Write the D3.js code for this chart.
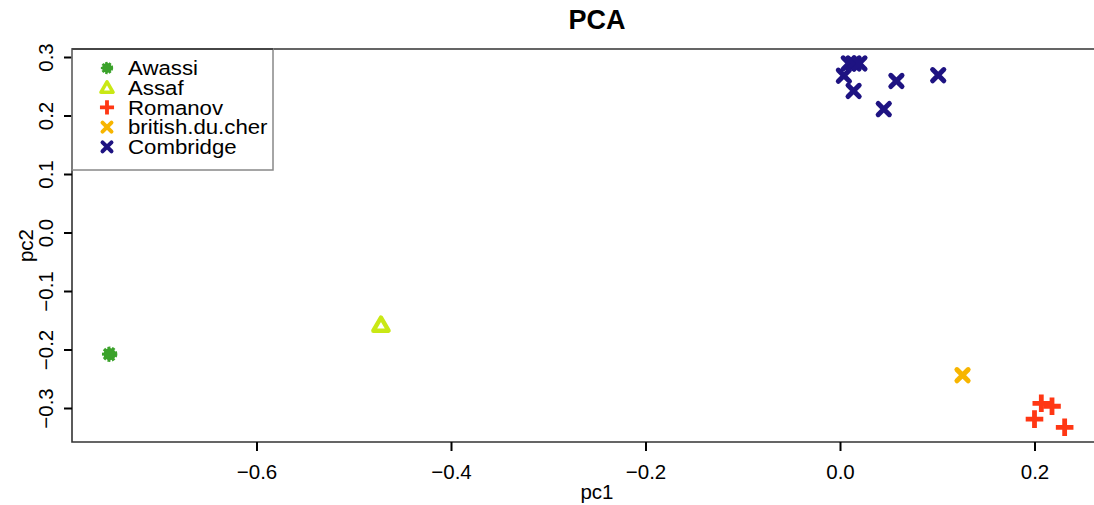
<!DOCTYPE html>
<html>
<head>
<meta charset="utf-8">
<script src="https://cdn.jsdelivr.net/npm/d3@7"></script>
<style>
  body { margin: 0; background: #fff; }
  svg { display: block; font-family: "Liberation Sans", Arial, sans-serif; }
</style>
</head>
<body>
<div id="chart"></div>
<script>
// PCA scatter
const breeds = ['Awassi', 'Assaf', 'Romanov', 'british.du.cher', 'Combridge'];
const colors = ['#3ba22b', '#c9e815', '#ff3714', '#f7b500', '#1e1382'];
const shapes = ['dot', 'triangle', 'plus', 'cross', 'cross'];

const awassiPc1 = [-0.751];
const awassiPc2 = [-0.208];
const assafPc1 = [-0.472];
const assafPc2 = [-0.158];
const romanovPc1 = [0.207, 0.218, 0.200, 0.231];
const romanovPc2 = [-0.292, -0.297, -0.319, -0.333];
const britishPc1 = [0.126];
const britishPc2 = [-0.244];
const combridgePc1 = [0.009, 0.014, 0.020, 0.004, 0.014, 0.058, 0.045, 0.101];
const combridgePc2 = [0.289, 0.289, 0.289, 0.268, 0.242, 0.259, 0.211, 0.269];

const xTicks = [-0.6, -0.4, -0.2, 0.0, 0.2];
const yTicks = [-0.3, -0.2, -0.1, 0.0, 0.1, 0.2, 0.3];

const series = [
    [awassiPc1, awassiPc2],
    [assafPc1, assafPc2],
    [romanovPc1, romanovPc2],
    [britishPc1, britishPc2],
    [combridgePc1, combridgePc2],
];
const points = [];
series.forEach(([xs, ys], k) => {
    xs.forEach((v, i) => points.push({ pc1: v, pc2: ys[i], k }));
});

const width = 1094, height = 505;
// plot region runs past the right edge of the picture
const box = { left: 72, top: 49, right: 1120, bottom: 442 };

const x = d3.scaleLinear().domain([-0.6, 0.2]).range([256.5, 1034.5]);
const y = d3.scaleLinear().domain([-0.3, 0.3]).range([408, 57]);

const fmt = d => d3.format('.1f')(d).replace('-', '\u2212');

const svg = d3.select('#chart').append('svg')
    .attr('width', width)
    .attr('height', height);

function drawMarker(g, shape, color, s) {
    if (shape === 'dot') {
        g.append('circle')
            .attr('r', 6.2 * s)
            .attr('fill', color)
            .attr('stroke', color)
            .attr('stroke-width', 3 * s)
            .attr('stroke-dasharray', `${2.8 * s},${1.6 * s}`);
    } else if (shape === 'triangle') {
        g.append('path')
            .attr('d', d3.symbol(d3.symbolTriangle, 100 * s * s)())
            .attr('transform', `translate(0,${1.4 * s})`)
            .attr('fill', 'none')
            .attr('stroke', color)
            .attr('stroke-width', 4.4 * s)
            .attr('stroke-linejoin', 'round');
    } else if (shape === 'plus') {
        const a = 8.8 * s;
        g.append('path')
            .attr('d', `M${-a},0H${a}M0,${-a}V${a}`)
            .attr('stroke', color)
            .attr('stroke-width', 4.8 * s);
    } else {
        const a = 5.6 * s;
        g.append('path')
            .attr('d', `M${-a},${-a}L${a},${a}M${-a},${a}L${a},${-a}`)
            .attr('stroke', color)
            .attr('stroke-width', 5 * s)
            .attr('stroke-linecap', 'round');
    }
}

// Box
svg.append('path')
    .attr('d', `M${box.right},${box.top}H${box.left}V${box.bottom}H${box.right}`)
    .attr('fill', 'none')
    .attr('stroke', '#333')
    .attr('stroke-width', 1.6);

// X axis
const xAxis = svg.append('g')
    .attr('transform', `translate(0,${box.bottom})`)
    .call(d3.axisBottom(x).tickValues(xTicks).tickSize(9).tickPadding(13).tickFormat(fmt));
xAxis.select('.domain').remove();
xAxis.selectAll('line').attr('stroke', '#000').attr('stroke-width', 2);
xAxis.selectAll('text')
    .attr('font-size', '20.5px')
    .attr('font-family', '"Liberation Sans", Arial, sans-serif')
    .attr('fill', '#000');

// Y axis
const yAxis = svg.append('g')
    .attr('transform', `translate(${box.left},0)`)
    .call(d3.axisLeft(y).tickValues(yTicks).tickSize(8).tickPadding(0).tickFormat(fmt));
yAxis.select('.domain').remove();
yAxis.selectAll('line').attr('stroke', '#000').attr('stroke-width', 2);
yAxis.selectAll('text')
    .attr('font-size', '20.5px')
    .attr('font-family', '"Liberation Sans", Arial, sans-serif')
    .attr('fill', '#000')
    .attr('text-anchor', 'middle')
    .attr('dy', 0)
    .attr('x', 0)
    .attr('transform', 'translate(-19,0) rotate(-90)');

// Titles
svg.append('text')
    .attr('x', 597).attr('y', 29)
    .attr('text-anchor', 'middle')
    .attr('font-size', '27px')
    .attr('font-weight', 'bold')
    .text('PCA');

svg.append('text')
    .attr('x', 597).attr('y', 499)
    .attr('text-anchor', 'middle')
    .attr('font-size', '20.5px')
    .text('pc1');

svg.append('text')
    .attr('transform', `translate(33,${(box.top + box.bottom) / 2}) rotate(-90)`)
    .attr('text-anchor', 'middle')
    .attr('font-size', '20.5px')
    .text('pc2');

// Points
const pts = svg.append('g')
    .selectAll('g')
    .data(points)
    .join('g')
    .attr('transform', d => `translate(${x(d.pc1)},${y(d.pc2)})`);
pts.each(function(d) {
    drawMarker(d3.select(this), shapes[d.k], colors[d.k], 1);
});

// Legend
const legend = svg.append('g');
legend.append('rect')
    .attr('x', box.left).attr('y', box.top)
    .attr('width', 273 - box.left).attr('height', 170 - box.top)
    .attr('fill', 'none')
    .attr('stroke', '#888')
    .attr('stroke-width', 1.5);
legend.append('line')
    .attr('x1', box.left).attr('x2', 273)
    .attr('y1', box.top).attr('y2', box.top)
    .attr('stroke', '#333').attr('stroke-width', 1.6);

breeds.forEach((b, i) => {
    const row = legend.append('g').attr('transform', `translate(107,${68 + i * 19.7})`);
    drawMarker(row.append('g'), shapes[i], colors[i], 0.8);
    row.append('text')
        .attr('transform', 'translate(21,0) scale(1.14,1)')
        .attr('dy', '0.37em')
        .attr('font-size', '19.5px')
        .text(b);
});
</script>
</body>
</html>
